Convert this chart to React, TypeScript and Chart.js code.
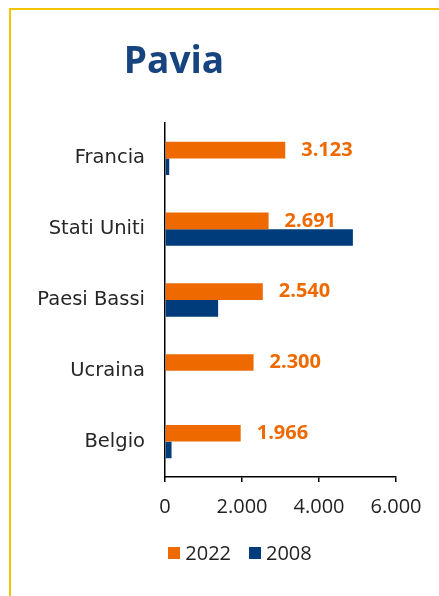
import React, { useEffect, useRef } from 'react';
import { Chart, registerables } from 'chart.js';

Chart.register(...registerables);

// ---- Data ----
const chartTitle = 'Pavia';
const categories = ['Francia', 'Stati Uniti', 'Paesi Bassi', 'Ucraina', 'Belgio'];
const seriesLabels = ['2022', '2008'];
const values2022 = [3123, 2691, 2540, 2300, 1966];
const values2008 = [110, 4880, 1380, 0, 170];
const xMin = 0;
const xMax = 6000;
const xStep = 2000;

// ---- Style ----
const ORANGE = '#EE6A00';
const BLUE = '#003B7B';
const TITLE_BLUE = '#17447F';
const GOLD = '#F2C300';

const fmt = (v: number) => String(Math.round(v)).replace(/\B(?=(\d{3})+(?!\d))/g, '.');

const valueLabelPlugin = {
  id: 'valueLabels',
  afterDatasetsDraw(chart: any) {
    const { ctx } = chart;
    const meta = chart.getDatasetMeta(0);
    const data = chart.data.datasets[0].data as number[];
    ctx.save();
    ctx.font = 'bold 20px "Open Sans"';
    ctx.fillStyle = ORANGE;
    ctx.textAlign = 'left';
    ctx.textBaseline = 'middle';
    meta.data.forEach((el: any, i: number) => {
      ctx.fillText(fmt(data[i]), el.x + 16, el.y);
    });
    ctx.restore();
  },
};

// Legend drawn from the chart's datasets, centred like the original
const legendPlugin = {
  id: 'customLegend',
  afterDraw(chart: any) {
    const { ctx } = chart;
    const centerX = 240;
    const centerY = 553;
    const box = 12;
    const gap = 5;
    const itemGap = 18;
    ctx.save();
    ctx.font = '20px "Open Sans"';
    ctx.textBaseline = 'middle';
    ctx.textAlign = 'left';
    const items = chart.data.datasets.map((ds: any) => ({
      text: ds.label,
      color: ds.backgroundColor,
      w: box + gap + ctx.measureText(ds.label).width,
    }));
    const total = items.reduce((a: number, it: any) => a + it.w, 0) + itemGap * (items.length - 1);
    let x = centerX - total / 2;
    items.forEach((it: any) => {
      ctx.fillStyle = it.color;
      ctx.fillRect(Math.round(x), Math.round(centerY - box / 2), box, box);
      ctx.fillStyle = '#222';
      ctx.fillText(it.text, x + box + gap, centerY + 1);
      x += it.w + itemGap;
    });
    ctx.restore();
  },
};

export default function App() {
  const ref = useRef<HTMLCanvasElement>(null);

  useEffect(() => {
    if (!ref.current) return;
    const chart = new Chart(ref.current, {
      type: 'bar',
      data: {
        labels: categories,
        datasets: [
          { label: seriesLabels[0], data: values2022, backgroundColor: ORANGE, borderWidth: 0 },
          { label: seriesLabels[1], data: values2008, backgroundColor: BLUE, borderWidth: 0 },
        ],
      },
      plugins: [valueLabelPlugin, legendPlugin],
      options: {
        indexAxis: 'y',
        responsive: false,
        animation: false,
        devicePixelRatio: 1,
        datasets: { bar: { categoryPercentage: 0.47, barPercentage: 1 } },
        layout: { padding: { left: 0, right: 43, top: 123, bottom: 65 } },
        scales: {
          x: {
            type: 'linear',
            min: xMin,
            max: xMax,
            ticks: {
              stepSize: xStep,
              callback: (v: any) => fmt(Number(v)),
              font: { family: 'Open Sans', size: 20 },
              color: '#222',
              padding: 13,
              maxRotation: 0,
            },
            grid: { display: true, drawOnChartArea: false, drawTicks: true, tickLength: 5, color: '#000', lineWidth: 1.5 },
            border: { display: true, color: '#000', width: 1.5 },
            afterFit: (s: any) => { s.height = 54; },
          },
          y: {
            type: 'category',
            ticks: { font: { family: 'DejaVu Sans', size: 19.5 }, color: '#262626', padding: 20 },
            grid: { display: false, drawTicks: false },
            border: { display: true, color: '#000', width: 1.5 },
            afterFit: (s: any) => { s.width = 165; },
          },
        },
        plugins: {
          title: { display: false },
          tooltip: { enabled: false },
          legend: { display: false },
        },
      },
    } as any);
    return () => chart.destroy();
  }, []);

  return (
    <div style={{ position: 'absolute', left: 0, top: 0, width: 439, height: 596, background: '#fff', overflow: 'hidden' }}>
      <div style={{ position: 'absolute', left: 9, top: 8, right: -5, bottom: -5, borderTop: `2px solid ${GOLD}`, borderLeft: `2px solid ${GOLD}` }} />
      <canvas ref={ref} width={439} height={596} style={{ position: 'absolute', left: 0, top: 0 }} />
      <div style={{ position: 'absolute', left: 74, top: 40, width: 200, textAlign: 'center', fontFamily: '"Open Sans"', fontWeight: 700, fontSize: 37, lineHeight: '37px', color: TITLE_BLUE }}>
        {chartTitle}
      </div>
    </div>
  );
}
